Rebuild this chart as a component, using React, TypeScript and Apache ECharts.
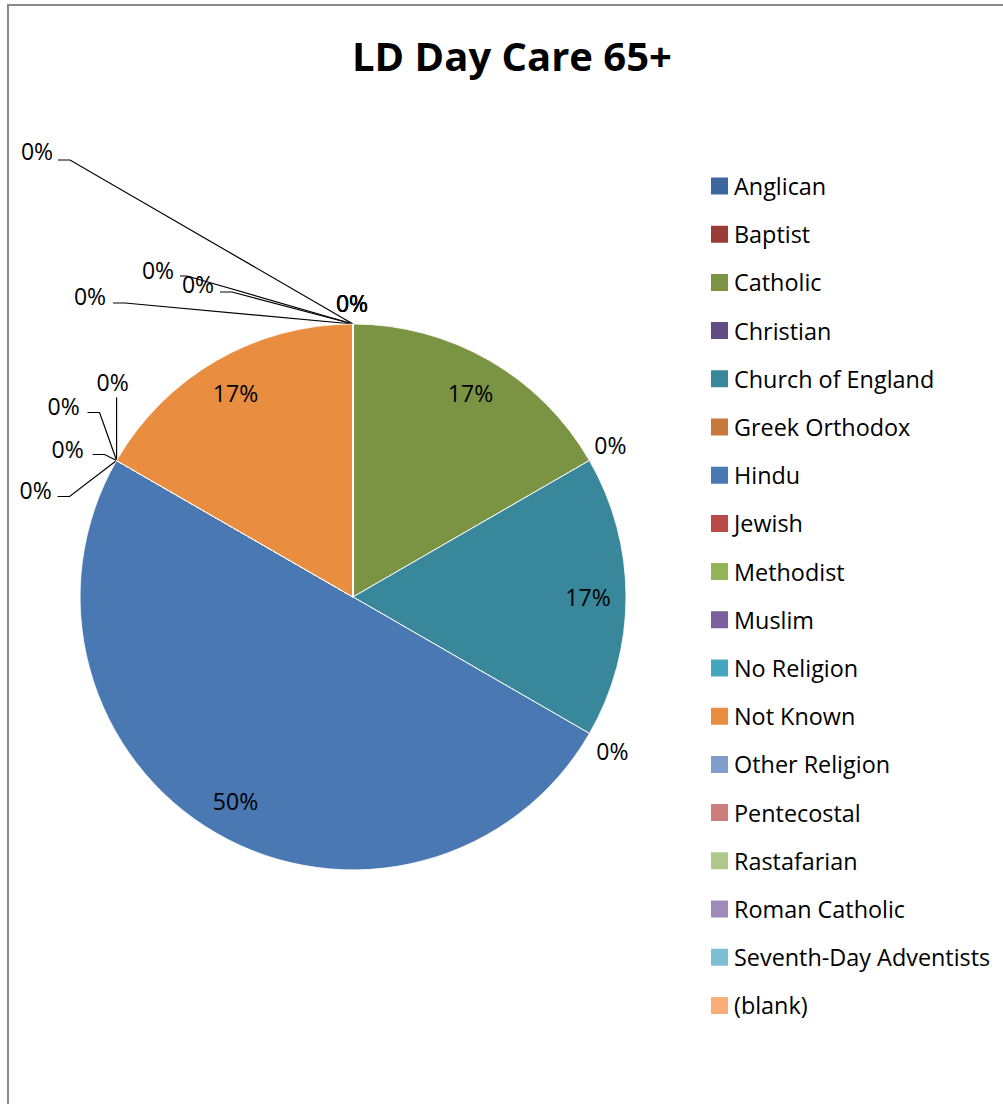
import React, { useEffect, useRef } from "react";
import * as echarts from "echarts";

const TITLE = "LD Day Care 65+";

const categories = [
  "Anglican",
  "Baptist",
  "Catholic",
  "Christian",
  "Church of England",
  "Greek Orthodox",
  "Hindu",
  "Jewish",
  "Methodist",
  "Muslim",
  "No Religion",
  "Not Known",
  "Other Religion",
  "Pentecostal",
  "Rastafarian",
  "Roman Catholic",
  "Seventh-Day Adventists",
  "(blank)",
];

const counts = [0, 0, 1, 0, 1, 0, 3, 0, 0, 0, 0, 1, 0, 0, 0, 0, 0, 0];

const colors = [
  "#3c679e",
  "#9b3b38",
  "#7a9444",
  "#634c81",
  "#39879b",
  "#c7783a",
  "#4a78b3",
  "#ba4a47",
  "#94b557",
  "#7b5f9e",
  "#47a6bf",
  "#e98d41",
  "#7f9eca",
  "#ce7d7a",
  "#b0c98b",
  "#9f8bb9",
  "#7cbfd3",
  "#f9ae78",
];

// geometry / style
const FONT = "'Open Sans', 'Liberation Sans', sans-serif";
const CX = 353;
const CY = 597;
const R = 273;
const INNER_LABEL_R = 235;

// Placement of the 0% labels relative to the point where their (empty) slice meets the rim:
// label centre offset, optional leader line elbow and end offsets.
type Place = { label: [number, number]; line?: [[number, number], [number, number]] };
const zeroPlacement: Record<number, Place> = {
  0: { label: [-1, -21] },
  1: { label: [-1, -21] },
  3: { label: [21, -16] },
  5: { label: [23, 17] },
  7: { label: [-4, -79], line: [[0, -63], [0, -63]] },
  8: { label: [-53, -55], line: [[-17, -48], [-29, -48]] },
  9: { label: [-49, -12], line: [[-12, -6], [-24, -6]] },
  10: { label: [-81, 29], line: [[-47, 36], [-59, 36]] },
  12: { label: [-1, -21] },
  13: { label: [-1, -21] },
  14: { label: [-263, -28], line: [[-228, -21], [-240, -21]] },
  15: { label: [-155, -40], line: [[-121, -32], [-133, -32]] },
  16: { label: [-195, -54], line: [[-166, -48], [-173, -48]] },
  17: { label: [-316, -173], line: [[-283, -164], [-295, -164]] },
};

export default function App() {
  const ref = useRef<HTMLDivElement>(null);

  useEffect(() => {
    if (!ref.current) return;
    const chart = echarts.init(ref.current, undefined, { renderer: "svg" });
    const total = counts.reduce((a, b) => a + b, 0);
    const before = (i: number) => counts.slice(0, i).reduce((a, b) => a + b, 0);

    const data = categories.map((name, i) => ({
      name,
      value: counts[i],
      itemStyle: { color: colors[i] },
      labelLine: { show: !!(zeroPlacement[i] && zeroPlacement[i].line) },
    }));

    chart.setOption({
      animation: false,
      backgroundColor: "#ffffff",
      graphic: [
        {
          type: "rect",
          silent: true,
          z: -10,
          shape: { x: 8, y: 5, width: 1100, height: 1200 },
          style: { fill: "none", stroke: "#8a8a8a", lineWidth: 2 },
        },
        {
          type: "text",
          x: 512,
          y: 55,
          style: {
            text: TITLE,
            fill: "#000000",
            fontSize: 40,
            fontWeight: "bold",
            fontFamily: FONT,
            align: "center",
            verticalAlign: "middle",
          },
        },
      ],
      legend: {
        orient: "vertical",
        left: 709,
        top: 173,
        padding: 0,
        itemWidth: 19,
        itemHeight: 19,
        itemGap: 22.2,
        icon: "rect",
        selectedMode: false,
        data: categories,
        textStyle: {
          fontSize: 23.4,
          lineHeight: 26,
          color: "#000000",
          fontFamily: FONT,
        },
      },
      series: [
        {
          type: "pie",
          center: [CX, CY],
          radius: R,
          startAngle: 90,
          clockwise: true,
          avoidLabelOverlap: false,
          emphasis: { disabled: true },
          itemStyle: { borderColor: "#ffffff", borderWidth: 0.8 },
          label: {
            show: true,
            position: "outside",
            color: "#000000",
            fontSize: 23,
            fontFamily: FONT,
            formatter: (p: any) => Math.round(p.percent) + "%",
          },
          labelLine: {
            show: true,
            length: 10,
            length2: 10,
            lineStyle: { color: "#000000", width: 1.2 },
          },
          labelLayout: (params: any) => {
            const i = params.dataIndex;
            const v = counts[i];
            if (v > 0) {
              const a = ((before(i) + v / 2) / total) * Math.PI * 2;
              return {
                x: CX + INNER_LABEL_R * Math.sin(a),
                y: CY - INNER_LABEL_R * Math.cos(a),
                align: "center",
                verticalAlign: "middle",
              };
            }
            const a = (before(i) / total) * Math.PI * 2;
            const ax = CX + R * Math.sin(a);
            const ay = CY - R * Math.cos(a);
            const p = zeroPlacement[i] || { label: [0, -20] };
            const res: any = {
              x: ax + p.label[0],
              y: ay + p.label[1],
              align: "center",
              verticalAlign: "middle",
            };
            if (p.line) {
              res.labelLinePoints = [
                [ax, ay],
                [ax + p.line[0][0], ay + p.line[0][1]],
                [ax + p.line[1][0], ay + p.line[1][1]],
              ];
            }
            return res;
          },
          data,
        },
      ],
    });

    return () => chart.dispose();
  }, []);

  return (
    <div
      ref={ref}
      style={{ position: "fixed", left: 0, top: 0, width: 1003, height: 1104, background: "#fff" }}
    />
  );
}
